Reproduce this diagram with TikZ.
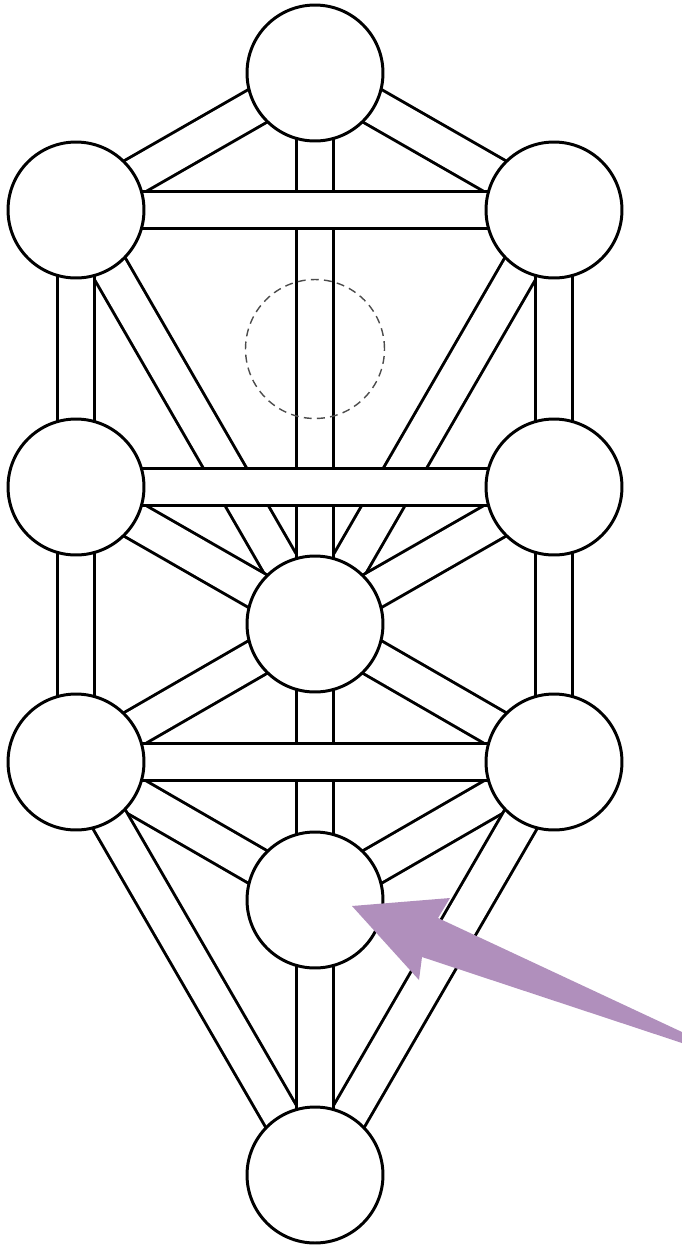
\documentclass[tikz,border=0pt]{standalone}
\usepackage{xcolor}
\usepackage{tikz}
\usetikzlibrary{backgrounds}

\definecolor{pointer}{RGB}{176,143,188}

\begin{document}
\begin{tikzpicture}[x=0.02cm, y=-0.02cm,
    sephira/.style={draw, circle, fill=white, line width=1.7pt, minimum size=2.72cm, inner sep=0pt},
    hidden/.style={draw=black!70, circle, dash pattern=on 4.5pt off 3pt, line width=0.8pt, minimum size=2.78cm, inner sep=0pt},
    bar/.style={line width=1.7pt, double=white, double distance=19.6pt}]
    \useasboundingbox (0,0) rectangle (682,1245);

    % The ten spheres (three pillars)
    \node[sephira] (kether) at (315,73) {};
    \node[sephira] (binah) at (76,210) {};
    \node[sephira] (chokmah) at (554,210) {};
    \node[sephira] (geburah) at (76,487) {};
    \node[sephira] (chesed) at (554,487) {};
    \node[sephira] (tiphareth) at (315,624) {};
    \node[sephira] (hod) at (76,762) {};
    \node[sephira] (netzach) at (554,762) {};
    \node[sephira] (yesod) at (315,900) {};
    \node[sephira] (malkuth) at (315,1175) {};

    % Hidden sphere
    \node[hidden] (daath) at (315,349) {};

    % The paths, behind the spheres (horizontals last, on top)
    \begin{scope}[on background layer]
        \draw[bar] (kether.center) -- (binah.center);
        \draw[bar] (kether.center) -- (chokmah.center);
        \draw[bar] (binah.center) -- (tiphareth.center);
        \draw[bar] (chokmah.center) -- (tiphareth.center);
        \draw[bar] (geburah.center) -- (tiphareth.center);
        \draw[bar] (chesed.center) -- (tiphareth.center);
        \draw[bar] (tiphareth.center) -- (hod.center);
        \draw[bar] (tiphareth.center) -- (netzach.center);
        \draw[bar] (hod.center) -- (yesod.center);
        \draw[bar] (netzach.center) -- (yesod.center);
        \draw[bar] (hod.center) -- (malkuth.center);
        \draw[bar] (netzach.center) -- (malkuth.center);

        \draw[bar] (kether.center) -- (tiphareth.center);
        \draw[bar] (tiphareth.center) -- (yesod.center);
        \draw[bar] (yesod.center) -- (malkuth.center);
        \draw[bar] (binah.center) -- (geburah.center);
        \draw[bar] (geburah.center) -- (hod.center);
        \draw[bar] (chokmah.center) -- (chesed.center);
        \draw[bar] (chesed.center) -- (netzach.center);

        \draw[bar] (binah.center) -- (chokmah.center);
        \draw[bar] (geburah.center) -- (chesed.center);
        \draw[bar] (hod.center) -- (netzach.center);
    \end{scope}

    % Pointer to Yesod
    \fill[pointer] (352,906) -- (450,898) -- (438,918) -- (682,1032) -- (682,1043) -- (422,957) -- (419,980) -- cycle;
\end{tikzpicture}
\end{document}
